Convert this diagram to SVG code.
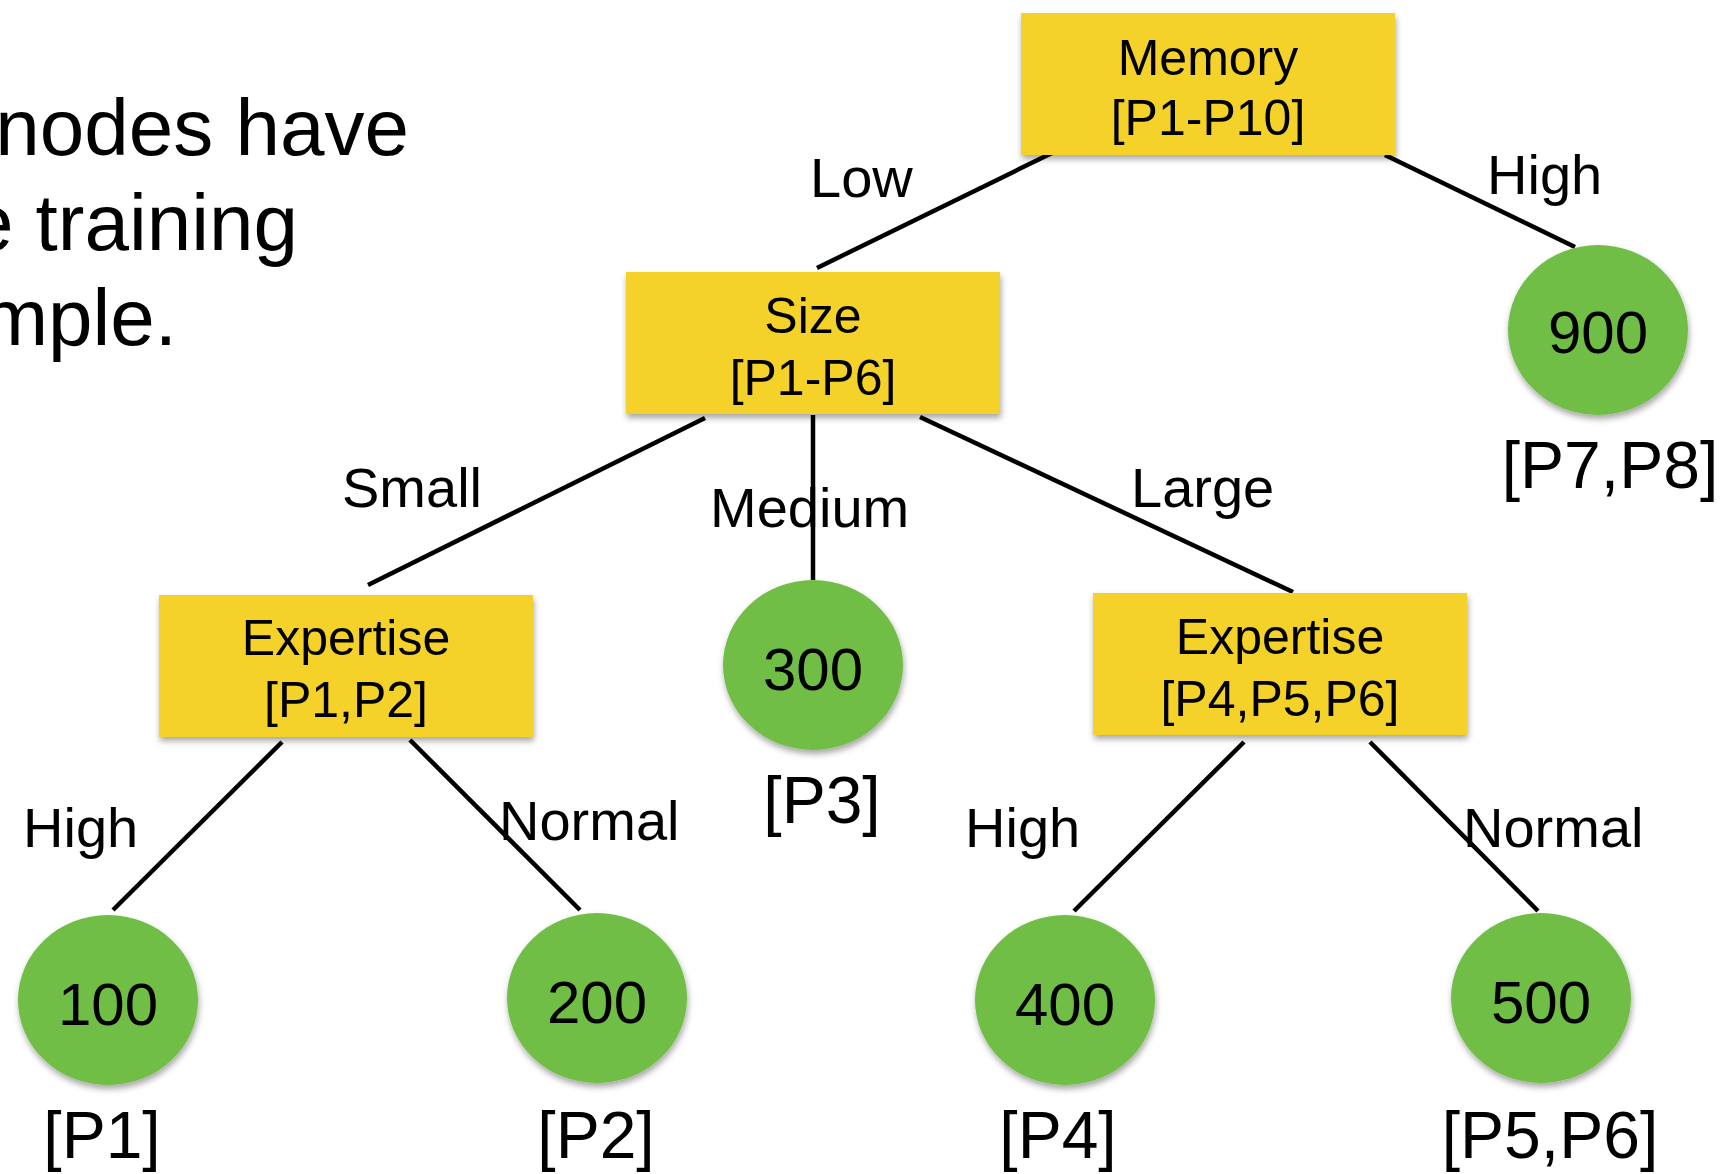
<svg xmlns="http://www.w3.org/2000/svg" width="1725" height="1174" viewBox="0 0 1725 1174">
<defs>
<filter id="sh" x="-20%" y="-20%" width="140%" height="150%">
<feDropShadow dx="1" dy="4" stdDeviation="3" flood-color="#000" flood-opacity="0.35"/>
</filter>
<style>
text{font-family:"Liberation Sans",Arial,sans-serif;fill:#000}
.box{fill:#F4D22B;filter:url(#sh)}
.leaf{fill:#6FBE44;filter:url(#sh)}
.bt{font-size:50px;text-anchor:middle}
.num{font-size:60px;text-anchor:middle}
.lt{font-size:66px;text-anchor:middle}
.el{font-size:56px}
.big{font-size:80px;text-anchor:end}
.edge{stroke:#000;stroke-width:4.5;fill:none}
</style>
</defs>
<rect width="1725" height="1174" fill="#fff"/>

<g id="side-text">
<text class="big" x="409" y="155">nodes have</text>
<text class="big" x="298" y="250">e training</text>
<text class="big" x="177" y="345">mple.</text>
</g>

<g id="edge-labels">
<text class="el" x="810" y="197">Low</text>
<text class="el" x="1487" y="194">High</text>
<text class="el" x="342" y="507">Small</text>
<text class="el" x="710" y="527">Medium</text>
<text class="el" x="1131" y="507">Large</text>
<text class="el" x="23" y="847">High</text>
<text class="el" x="499" y="840">Normal</text>
<text class="el" x="965" y="847">High</text>
<text class="el" x="1463" y="847">Normal</text>
</g>

<g id="connectors">
<line class="edge" x1="1052" y1="153" x2="817" y2="268"/>
<line class="edge" x1="1385" y1="155" x2="1575" y2="247"/>
<line class="edge" x1="705" y1="418" x2="368" y2="585"/>
<line class="edge" x1="813" y1="415" x2="813" y2="580"/>
<line class="edge" x1="920" y1="417" x2="1293" y2="592"/>
<line class="edge" x1="282" y1="742" x2="113" y2="910"/>
<line class="edge" x1="410" y1="740" x2="580" y2="910"/>
<line class="edge" x1="1244" y1="742" x2="1074" y2="911"/>
<line class="edge" x1="1370" y1="742" x2="1538" y2="911"/>
</g>

<g id="memory">
<rect class="box" x="1021" y="13" width="374" height="142"/>
<text class="bt" x="1208" y="75">Memory</text>
<text class="bt" x="1208" y="135">[P1-P10]</text>
</g>

<g id="size">
<rect class="box" x="626" y="272" width="374" height="142"/>
<text class="bt" x="813" y="333">Size</text>
<text class="bt" x="813" y="395">[P1-P6]</text>
</g>

<g id="expertise-left">
<rect class="box" x="159" y="595" width="374" height="142"/>
<text class="bt" x="346" y="655">Expertise</text>
<text class="bt" x="346" y="717">[P1,P2]</text>
</g>

<g id="expertise-right">
<rect class="box" x="1093" y="593" width="374" height="142"/>
<text class="bt" x="1280" y="654">Expertise</text>
<text class="bt" x="1280" y="716">[P4,P5,P6]</text>
</g>

<g id="leaf-900">
<ellipse class="leaf" cx="1598" cy="330" rx="90" ry="85"/>
<text class="num" x="1598" y="353">900</text>
<text class="lt" x="1610" y="488">[P7,P8]</text>
</g>

<g id="leaf-300">
<ellipse class="leaf" cx="813" cy="665" rx="90" ry="85"/>
<text class="num" x="813" y="690">300</text>
<text class="lt" x="822" y="823">[P3]</text>
</g>

<g id="leaf-100">
<ellipse class="leaf" cx="108" cy="1000" rx="90" ry="85"/>
<text class="num" x="108" y="1025">100</text>
<text class="lt" x="102" y="1158">[P1]</text>
</g>

<g id="leaf-200">
<ellipse class="leaf" cx="597" cy="998" rx="90" ry="85"/>
<text class="num" x="597" y="1023">200</text>
<text class="lt" x="596" y="1158">[P2]</text>
</g>

<g id="leaf-400">
<ellipse class="leaf" cx="1065" cy="1000" rx="90" ry="85"/>
<text class="num" x="1065" y="1025">400</text>
<text class="lt" x="1058" y="1158">[P4]</text>
</g>

<g id="leaf-500">
<ellipse class="leaf" cx="1541" cy="998" rx="90" ry="85"/>
<text class="num" x="1541" y="1023">500</text>
<text class="lt" x="1550" y="1158">[P5,P6]</text>
</g>
</svg>
